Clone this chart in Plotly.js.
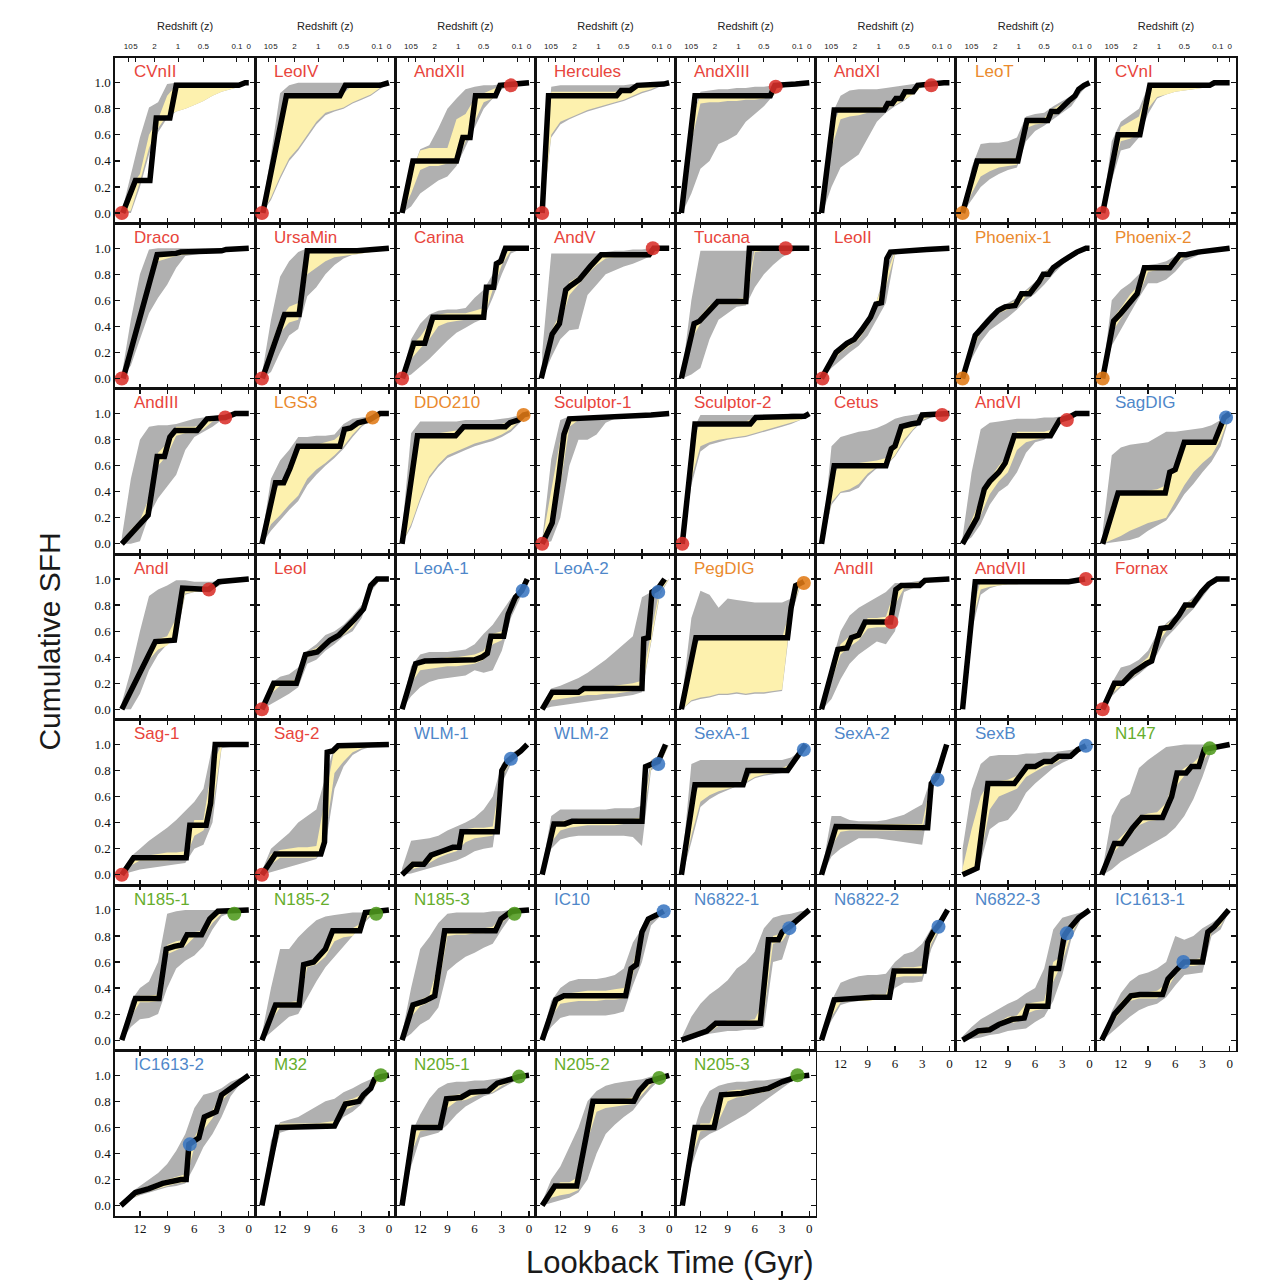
<!DOCTYPE html>
<html>
<head>
<meta charset="utf-8">
<script src="https://cdn.plot.ly/plotly-3.0.1.min.js"></script>
<style>
  html, body { margin: 0; padding: 0; background: #ffffff; }
  #chart { width: 1266px; height: 1280px; }
</style>
</head>
<body>
<div id="chart"></div>
<script>
// Cumulative star formation histories of Local Group dwarfs, one panel per field.
// Lookback time (Gyr) on x, cumulative fraction of stellar mass formed on y.

// Time grid on which the uncertainty envelopes are sampled
const lookbackGrid = [14, 13, 12, 11, 10, 9, 8, 7, 6, 5, 4, 3, 2, 1, 0];

const galaxyNames = [
  'CVnII', 'LeoIV', 'AndXII', 'Hercules', 'AndXIII', 'AndXI', 'LeoT', 'CVnI',
  'Draco', 'UrsaMin', 'Carina', 'AndV', 'Tucana', 'LeoII', 'Phoenix-1', 'Phoenix-2',
  'AndIII', 'LGS3', 'DDO210', 'Sculptor-1', 'Sculptor-2', 'Cetus', 'AndVI', 'SagDIG',
  'AndI', 'LeoI', 'LeoA-1', 'LeoA-2', 'PegDIG', 'AndII', 'AndVII', 'Fornax',
  'Sag-1', 'Sag-2', 'WLM-1', 'WLM-2', 'SexA-1', 'SexA-2', 'SexB', 'N147',
  'N185-1', 'N185-2', 'N185-3', 'IC10', 'N6822-1', 'N6822-2', 'N6822-3', 'IC1613-1',
  'IC1613-2', 'M32', 'N205-1', 'N205-2', 'N205-3'
];

// Morphological class of each field (sets label and marker colour)
const galaxyClass = [
  'dSph', 'dSph', 'dSph', 'dSph', 'dSph', 'dSph', 'dTrans', 'dSph',
  'dSph', 'dSph', 'dSph', 'dSph', 'dSph', 'dSph', 'dTrans', 'dTrans',
  'dSph', 'dTrans', 'dTrans', 'dSph', 'dSph', 'dSph', 'dSph', 'dIrr',
  'dSph', 'dSph', 'dIrr', 'dIrr', 'dTrans', 'dSph', 'dSph', 'dSph',
  'dSph', 'dSph', 'dIrr', 'dIrr', 'dIrr', 'dIrr', 'dIrr', 'dE',
  'dE', 'dE', 'dE', 'dIrr', 'dIrr', 'dIrr', 'dIrr', 'dIrr',
  'dIrr', 'dE', 'dE', 'dE', 'dE'
];

// Best-fit cumulative SFH vertices, flattened as [t0, f0, t1, f1, ...]
const bestFitPath = [
  [13.9,0, 12.5,0.25, 10.9,0.25, 10.2,0.73, 8.7,0.73, 8.0,0.98, 1.1,0.98, 0.4,1, 0,1],
  [13.9,0, 11.3,0.9, 5.4,0.9, 4.8,0.98, 1.0,0.98, 0.3,1, 0,1],
  [14.0,0, 12.8,0.4, 8.0,0.4, 7.3,0.58, 6.5,0.58, 5.9,0.9, 3.7,0.9, 3.2,0.98, 0,1],
  [14.0,0, 13.3,0.9, 5.8,0.9, 5.3,0.94, 4.3,0.94, 3.5,0.98, 0.6,0.99, 0,1],
  [14.1,0, 12.6,0.9, 4.3,0.9, 3.8,0.98, 1.5,0.99, 0.5,1, 0,1],
  [14.1,0, 12.7,0.79, 7.2,0.79, 6.8,0.84, 6.3,0.84, 5.9,0.88, 5.3,0.88, 4.9,0.93, 4.0,0.93, 3.5,0.98, 0.6,1, 0,1],
  [14.0,0, 12.4,0.4, 7.9,0.4, 6.9,0.71, 4.6,0.71, 4.2,0.78, 3.5,0.78, 3.0,0.82, 2.3,0.86, 1.6,0.9, 1.2,0.95, 0.6,0.98, 0,1],
  [14.0,0, 12.3,0.6, 9.9,0.6, 8.8,0.98, 2.2,0.98, 1.7,1, 0,1],
  [13.85,0, 10.1,0.95, 8.0,0.96, 7.5,0.97, 3.0,0.98, 2.5,0.99, 0,1],
  [13.95,0, 11.5,0.49, 9.9,0.49, 9.0,0.98, 3.5,0.98, 1.0,0.99, 0,1],
  [13.95,0, 12.7,0.27, 11.5,0.27, 10.6,0.47, 5.0,0.47, 4.7,0.7, 3.9,0.7, 3.6,0.88, 3.1,0.9, 2.6,1, 0,1],
  [14.1,0, 12.9,0.34, 12.1,0.42, 11.4,0.68, 10.9,0.71, 9.9,0.76, 8.7,0.86, 7.5,0.95, 2.2,0.95, 1.7,1, 0,1],
  [14.1,0, 12.7,0.42, 12.1,0.44, 11.1,0.52, 10.1,0.59, 7.0,0.59, 6.6,1, 0,1],
  [14.1,0, 12.5,0.2, 11.3,0.27, 10.5,0.3, 9.7,0.37, 8.7,0.47, 8.1,0.57, 7.5,0.58, 6.9,0.92, 6.5,0.97, 2.5,0.99, 0,1],
  [14.0,0, 12.6,0.33, 11.2,0.44, 10.1,0.52, 9.3,0.55, 8.2,0.56, 7.5,0.65, 6.6,0.65, 5.6,0.74, 5.1,0.8, 4.5,0.8, 4.0,0.85, 3.0,0.9, 2.2,0.94, 1.4,0.97, 0.4,1, 0,1],
  [14.0,0, 12.8,0.44, 12.0,0.5, 11.0,0.59, 10.2,0.65, 9.4,0.85, 6.6,0.85, 5.5,0.95, 4.8,0.95, 3.5,0.97, 1.5,0.99, 0,1],
  [14.0,0, 11.1,0.22, 10.1,0.67, 9.3,0.67, 8.7,0.82, 8.1,0.87, 5.7,0.87, 4.6,0.96, 2.6,0.97, 1.5,1, 0,1],
  [14.0,0, 12.5,0.47, 11.6,0.47, 10.9,0.58, 10.0,0.75, 5.4,0.75, 4.9,0.88, 4.2,0.89, 3.4,0.93, 2.2,0.95, 1.0,1, 0,1],
  [14.0,0, 12.3,0.83, 8.1,0.83, 7.2,0.9, 2.6,0.9, 2.1,0.93, 1.2,0.95, 0.6,0.99, 0,1],
  [14.0,0, 12.9,0.16, 12.2,0.5, 11.6,0.84, 11.0,0.96, 6.7,0.97, 2.0,0.99, 0,1],
  [14.0,0, 12.6,0.92, 6.5,0.92, 5.9,0.97, 0.5,0.98, 0.2,1, 0,1],
  [14.1,0, 12.7,0.6, 7.0,0.6, 6.4,0.73, 6.0,0.75, 5.3,0.9, 4.2,0.92, 3.4,0.93, 3.0,0.99, 0.8,0.99, 0,1],
  [14.0,0, 12.4,0.2, 11.6,0.42, 11.0,0.48, 10.0,0.55, 9.3,0.62, 8.3,0.83, 4.3,0.83, 3.3,0.95, 2.3,0.97, 1.5,1, 0,1],
  [14.0,0, 12.3,0.39, 7.1,0.39, 6.6,0.55, 6.0,0.57, 5.0,0.78, 1.7,0.78, 0.6,0.97, 0,1],
  [14.0,0, 10.3,0.52, 8.2,0.53, 7.3,0.93, 4.4,0.92, 3.3,0.98, 0,1],
  [14.0,0, 12.7,0.2, 10.2,0.2, 9.2,0.42, 7.9,0.44, 6.5,0.53, 5.5,0.57, 4.6,0.63, 3.8,0.69, 2.8,0.77, 2.0,0.95, 1.3,1, 0,1],
  [14.0,0, 12.5,0.35, 11.5,0.37, 8.0,0.37, 6.0,0.38, 5.2,0.4, 4.6,0.43, 4.2,0.56, 2.8,0.56, 2.3,0.73, 1.9,0.8, 1.5,0.86, 0.8,0.91, 0.2,1],
  [14.0,0, 12.9,0.13, 10.0,0.13, 9.4,0.16, 3.0,0.16, 2.8,0.54, 2.3,0.55, 1.9,0.9, 1.2,0.93, 0.5,1],
  [14.1,0, 12.5,0.55, 2.4,0.55, 2.0,0.78, 1.5,0.95, 0.6,0.98],
  [14.1,0, 12.3,0.46, 11.3,0.47, 10.8,0.55, 10.0,0.57, 9.3,0.67, 6.5,0.67, 5.9,0.92, 5.3,0.95, 3.3,0.95, 2.7,0.99, 0,1],
  [14.0,0, 12.6,0.98, 2.3,0.98, 0.5,1],
  [14.0,0, 12.7,0.2, 11.8,0.2, 10.7,0.28, 9.2,0.35, 8.6,0.37, 7.6,0.62, 6.6,0.63, 5.6,0.72, 4.9,0.8, 4.1,0.8, 3.1,0.9, 2.3,0.96, 1.4,1, 0,1],
  [14.0,0, 12.7,0.13, 6.9,0.13, 6.5,0.38, 4.7,0.38, 4.2,0.55, 3.7,1, 0,1],
  [14.0,0, 12.5,0.16, 7.5,0.16, 7.1,0.25, 6.8,0.94, 6.2,0.95, 5.6,0.99, 0,1],
  [14.0,0, 12.8,0.08, 11.6,0.08, 10.8,0.15, 9.6,0.18, 8.4,0.21, 7.7,0.21, 7.4,0.33, 3.5,0.33, 3.0,0.8, 2.4,0.87, 1.8,0.9, 0.9,0.95, 0.2,1],
  [14.0,0, 12.7,0.39, 11.5,0.39, 10.7,0.41, 3.0,0.41, 2.6,0.83, 1.2,0.87, 0.4,1],
  [14.1,0, 12.6,0.69, 7.3,0.69, 6.8,0.8, 2.4,0.8, 1.7,0.87, 0.4,1],
  [14.1,0, 12.5,0.37, 2.4,0.36, 2.0,0.7, 1.4,0.75, 1.0,0.84, 0.3,1],
  [14.0,0, 12.4,0.05, 11.2,0.7, 8.3,0.7, 6.9,0.83, 6.0,0.83, 5.0,0.87, 4.2,0.87, 3.4,0.91, 2.1,0.91, 1.3,0.96, 0.4,0.99],
  [14.1,0, 12.7,0.24, 11.9,0.24, 10.7,0.36, 9.7,0.44, 7.4,0.44, 6.4,0.6, 5.8,0.78, 4.8,0.78, 4.2,0.83, 3.4,0.83, 2.8,0.96, 2.2,0.97, 1.0,0.99, 0,1],
  [14.0,0, 12.5,0.32, 9.9,0.32, 9.1,0.7, 8.2,0.72, 7.4,0.73, 6.8,0.81, 5.2,0.81, 4.3,0.93, 3.4,0.99, 0,1],
  [14.0,0, 12.5,0.27, 9.9,0.27, 9.4,0.58, 8.3,0.6, 7.0,0.7, 6.2,0.84, 3.2,0.84, 2.6,0.98, 0,1],
  [14.0,0, 12.8,0.27, 11.5,0.3, 10.4,0.34, 9.3,0.84, 3.7,0.84, 3.1,0.93, 2.5,0.96, 1.9,0.99, 0,1],
  [14.0,0, 12.5,0.31, 11.6,0.34, 4.8,0.34, 4.2,0.55, 3.6,0.58, 3.0,0.83, 2.3,0.93, 1.4,0.96, 0.6,0.99],
  [14.1,0, 12.5,0.04, 11.3,0.07, 10.3,0.13, 5.4,0.13, 4.9,0.48, 4.5,0.77, 3.4,0.77, 3.0,0.83, 2.2,0.87, 0,1],
  [14.1,0, 12.7,0.31, 8.5,0.33, 6.6,0.33, 6.1,0.53, 2.8,0.53, 2.4,0.75, 1.8,0.83, 1.2,0.88, 0.2,1],
  [14.0,0, 12.3,0.07, 11.0,0.08, 10.0,0.12, 8.5,0.16, 7.2,0.17, 6.8,0.26, 4.6,0.26, 4.2,0.55, 3.4,0.55, 2.8,0.8, 2.4,0.84, 1.2,0.94, 0,1],
  [14.1,0, 12.7,0.2, 10.9,0.34, 9.9,0.35, 7.4,0.35, 6.8,0.47, 6.0,0.53, 5.0,0.6, 3.0,0.6, 2.4,0.83, 1.7,0.87, 0.1,1],
  [14.1,0, 12.5,0.1, 11.0,0.13, 9.5,0.17, 7.5,0.2, 6.9,0.2, 6.6,0.47, 5.5,0.52, 4.9,0.68, 3.6,0.72, 3.0,0.85, 2.0,0.9, 1.0,0.96, 0,1],
  [14.0,0, 12.3,0.6, 6.0,0.61, 4.8,0.78, 3.3,0.8, 2.8,0.85, 2.0,0.9, 1.6,0.97, 0.9,0.99, 0,1],
  [14.0,0, 12.7,0.6, 9.8,0.6, 9.1,0.82, 7.5,0.83, 6.5,0.87, 4.5,0.88, 3.5,0.94, 2.5,0.96, 1.1,0.99, 0,1],
  [14.0,0, 12.6,0.15, 10.2,0.15, 8.9,0.6, 8.4,0.8, 3.9,0.8, 3.3,0.88, 2.4,0.95, 1.1,0.98, 0,1],
  [14.0,0, 12.6,0.6, 10.5,0.6, 9.7,0.85, 7.5,0.86, 6.0,0.88, 4.5,0.9, 3.0,0.95, 1.3,0.99, 0,1]
];

// Total (systematic + random) uncertainty envelope on lookbackGrid
const totalHigh = [
  [0.01,0.3,0.58,0.81,0.85,0.99,1,1,1,1,1,1,1,1,1],
  [0.02,0.45,0.92,0.98,1,1,1,1,1,1,1,1,1,1,1],
  [0.02,0.3,0.49,0.52,0.65,0.8,0.88,0.95,0.97,0.98,0.98,0.99,1,1,1],
  [0.05,0.97,0.98,0.98,0.98,0.98,0.98,0.98,0.98,0.98,0.99,0.99,1,1,1],
  [0.02,0.7,0.93,0.94,0.95,0.95,0.96,0.96,0.97,0.97,0.98,0.99,1,1,1],
  [0.02,0.75,0.9,0.94,0.95,0.95,0.95,0.96,0.97,0.98,0.99,1,1,1,1],
  [0.02,0.35,0.53,0.54,0.54,0.55,0.58,0.74,0.76,0.77,0.82,0.86,0.9,0.97,1],
  [0.02,0.55,0.7,0.75,0.8,0.97,0.99,0.99,0.99,0.99,0.99,0.99,1,1,1],
  [0.03,0.45,0.8,0.99,1,1,1,1,1,1,1,1,1,1,1],
  [0.03,0.45,0.78,0.9,0.97,1,1,1,1,1,1,1,1,1,1],
  [0.02,0.3,0.42,0.49,0.52,0.53,0.53,0.54,0.62,0.68,0.8,0.99,1,1,1],
  [0.2,0.96,0.96,0.96,0.96,0.96,0.96,0.97,0.98,0.98,0.99,0.99,1,1,1],
  [0.05,0.6,0.98,0.98,0.98,0.98,0.98,0.98,1,1,1,1,1,1,1],
  [0.02,0.17,0.25,0.3,0.35,0.45,0.6,0.85,0.99,0.99,0.99,0.99,1,1,1],
  [0.02,0.26,0.41,0.49,0.55,0.58,0.62,0.68,0.74,0.82,0.87,0.92,0.96,0.99,1],
  [0.03,0.6,0.68,0.73,0.8,0.87,0.88,0.9,0.94,0.96,0.97,0.98,0.99,1,1],
  [0.05,0.5,0.8,0.9,0.91,0.91,0.92,0.94,0.96,0.97,0.98,0.99,1,1,1],
  [0.05,0.5,0.64,0.72,0.82,0.82,0.83,0.83,0.84,0.92,0.96,0.97,0.98,1,1],
  [0.1,0.85,0.94,0.94,0.94,0.94,0.94,0.95,0.95,0.95,0.95,0.96,0.97,0.99,1],
  [0.03,0.65,0.95,0.98,0.98,0.98,0.98,0.98,0.98,0.98,0.99,0.99,1,1,1],
  [0.05,0.85,0.99,0.99,0.99,0.99,0.99,0.99,0.99,0.99,0.99,0.99,1,1,1],
  [0.03,0.75,0.82,0.84,0.86,0.87,0.89,0.92,0.96,0.98,0.99,1,1,1,1],
  [0.05,0.55,0.88,0.93,0.94,0.95,0.96,0.96,0.96,0.97,0.97,0.98,1,1,1],
  [0.1,0.68,0.74,0.76,0.77,0.78,0.82,0.86,0.86,0.87,0.88,0.89,0.91,0.95,1],
  [0.05,0.3,0.6,0.87,0.92,0.95,0.99,0.99,0.98,0.98,0.98,0.99,1,1,1],
  [0.02,0.2,0.25,0.27,0.32,0.45,0.5,0.57,0.6,0.65,0.72,0.8,0.97,1,1],
  [0.03,0.33,0.42,0.44,0.44,0.44,0.45,0.46,0.5,0.58,0.65,0.75,0.85,0.92,1],
  [0.02,0.16,0.18,0.21,0.24,0.28,0.33,0.38,0.44,0.5,0.56,0.86,0.9,0.95,1],
  [0.1,0.7,0.91,0.88,0.78,0.85,0.84,0.83,0.82,0.82,0.82,0.82,0.85,0.97,1],
  [0.05,0.35,0.6,0.72,0.78,0.82,0.86,0.9,0.97,0.97,0.98,0.99,1,1,1],
  [0.05,0.9,0.99,0.99,0.99,0.99,0.99,0.99,0.99,0.99,0.99,0.99,1,1,1],
  [0.03,0.2,0.32,0.34,0.38,0.45,0.58,0.66,0.72,0.8,0.86,0.92,0.98,1,1],
  [0.03,0.14,0.2,0.26,0.31,0.36,0.42,0.49,0.56,0.66,0.99,1,1,1,1],
  [0.03,0.2,0.26,0.32,0.4,0.45,0.5,0.75,0.99,1,1,1,1,1,1],
  [0.05,0.26,0.27,0.28,0.3,0.34,0.37,0.4,0.44,0.5,0.6,0.85,0.93,0.97,1],
  [0.05,0.45,0.5,0.5,0.5,0.5,0.5,0.5,0.51,0.51,0.51,0.53,0.88,0.92,1],
  [0.1,0.85,0.88,0.88,0.88,0.88,0.88,0.88,0.88,0.88,0.88,0.88,0.9,0.95,1],
  [0.05,0.45,0.45,0.42,0.41,0.41,0.41,0.42,0.44,0.46,0.5,0.54,0.75,0.88,1],
  [0.2,0.65,0.85,0.91,0.92,0.92,0.92,0.93,0.93,0.94,0.94,0.95,0.96,0.98,1],
  [0.05,0.45,0.58,0.62,0.82,0.88,0.93,0.98,0.99,1,1,1,1,1,1],
  [0.03,0.3,0.4,0.45,0.6,0.97,0.99,1,1,1,1,1,1,1,1],
  [0.05,0.4,0.7,0.7,0.79,0.86,0.92,0.95,0.96,0.97,0.98,0.98,1,1,1],
  [0.05,0.4,0.7,0.79,0.9,0.97,0.98,0.98,0.98,0.98,0.99,0.99,1,1,1],
  [0.03,0.3,0.4,0.45,0.47,0.47,0.47,0.48,0.5,0.55,0.75,0.86,0.96,0.98,1],
  [0.03,0.18,0.28,0.35,0.4,0.46,0.55,0.6,0.68,0.86,0.94,0.96,0.97,0.99,1],
  [0.03,0.3,0.44,0.47,0.49,0.5,0.5,0.51,0.6,0.66,0.68,0.74,0.86,0.93,1],
  [0.03,0.1,0.16,0.2,0.24,0.28,0.31,0.36,0.4,0.55,0.85,0.94,0.96,0.98,1],
  [0.03,0.22,0.36,0.45,0.5,0.52,0.55,0.6,0.8,0.77,0.8,0.86,0.9,0.95,1],
  [0.02,0.1,0.15,0.2,0.25,0.32,0.42,0.55,0.75,0.85,0.87,0.9,0.95,0.98,1],
  [0.05,0.5,0.64,0.66,0.68,0.72,0.76,0.8,0.82,0.87,0.9,0.94,0.97,0.99,1],
  [0.05,0.55,0.7,0.82,0.9,0.94,0.95,0.95,0.96,0.96,0.97,0.98,0.99,1,1],
  [0.03,0.2,0.3,0.45,0.6,0.8,0.88,0.92,0.94,0.95,0.96,0.97,0.99,1,1],
  [0.05,0.5,0.75,0.88,0.92,0.94,0.95,0.95,0.96,0.96,0.97,0.98,0.99,1,1]
];

const totalLow = [
  [0,0,0.2,0.45,0.62,0.73,0.78,0.8,0.83,0.86,0.9,0.93,0.95,0.97,1],
  [0,0.1,0.26,0.4,0.48,0.58,0.68,0.75,0.78,0.8,0.84,0.87,0.9,0.95,1],
  [0,0.05,0.15,0.2,0.25,0.28,0.36,0.5,0.65,0.8,0.88,0.95,0.98,0.99,1],
  [0,0.58,0.68,0.72,0.75,0.78,0.8,0.82,0.84,0.86,0.89,0.92,0.94,0.97,1],
  [0,0.15,0.34,0.4,0.53,0.56,0.6,0.7,0.76,0.82,0.9,0.96,0.98,0.99,1],
  [0,0.2,0.35,0.4,0.45,0.57,0.7,0.77,0.82,0.86,0.92,0.97,0.98,0.99,1],
  [0,0.1,0.2,0.26,0.3,0.33,0.35,0.55,0.63,0.67,0.72,0.77,0.82,0.92,1],
  [0,0.25,0.48,0.5,0.58,0.76,0.88,0.91,0.93,0.94,0.95,0.96,0.98,0.99,1],
  [0,0.1,0.3,0.5,0.62,0.72,0.85,0.94,0.95,0.96,0.97,0.98,0.99,0.99,1],
  [0,0.05,0.2,0.33,0.38,0.63,0.7,0.8,0.87,0.92,0.95,0.96,0.97,0.99,1],
  [0,0.03,0.09,0.15,0.22,0.29,0.35,0.39,0.43,0.46,0.62,0.8,0.96,0.99,1],
  [0,0.16,0.3,0.37,0.38,0.64,0.72,0.8,0.83,0.86,0.88,0.91,0.94,0.99,1],
  [0,0.03,0.08,0.3,0.45,0.5,0.55,0.56,0.7,0.8,0.87,0.93,0.97,0.99,1],
  [0,0.08,0.14,0.2,0.25,0.33,0.45,0.58,0.95,0.97,0.98,0.98,0.99,0.99,1],
  [0,0.15,0.28,0.37,0.42,0.47,0.53,0.6,0.65,0.72,0.8,0.87,0.92,0.97,1],
  [0,0.25,0.38,0.5,0.62,0.73,0.73,0.76,0.82,0.9,0.93,0.96,0.98,0.99,1],
  [0,0,0.02,0.22,0.35,0.44,0.53,0.72,0.82,0.86,0.9,0.95,0.97,0.99,1],
  [0,0.1,0.18,0.26,0.33,0.45,0.53,0.6,0.66,0.73,0.82,0.9,0.95,0.99,1],
  [0,0.13,0.33,0.5,0.59,0.66,0.69,0.72,0.75,0.77,0.79,0.82,0.86,0.93,1],
  [0,0.02,0.2,0.6,0.8,0.8,0.84,0.93,0.96,0.97,0.97,0.98,0.99,0.99,1],
  [0,0.45,0.71,0.76,0.78,0.8,0.81,0.82,0.84,0.86,0.88,0.9,0.92,0.95,0.98],
  [0,0.3,0.39,0.4,0.43,0.52,0.58,0.6,0.67,0.78,0.87,0.94,0.97,0.99,1],
  [0,0.05,0.15,0.3,0.4,0.45,0.55,0.7,0.78,0.8,0.86,0.94,0.97,0.99,1],
  [0,0.01,0.02,0.03,0.05,0.1,0.14,0.18,0.27,0.38,0.46,0.55,0.63,0.75,0.98],
  [0,0,0.12,0.3,0.42,0.5,0.55,0.88,0.9,0.91,0.92,0.96,0.98,0.99,1],
  [0,0.04,0.08,0.12,0.17,0.35,0.38,0.45,0.5,0.56,0.6,0.7,0.9,0.99,1],
  [0,0.1,0.17,0.21,0.23,0.24,0.25,0.26,0.3,0.28,0.3,0.45,0.7,0.85,1],
  [0,0.02,0.03,0.04,0.05,0.06,0.07,0.08,0.09,0.1,0.11,0.13,0.5,0.88,1],
  [0,0.06,0.08,0.09,0.11,0.11,0.12,0.11,0.12,0.12,0.13,0.14,0.72,0.94,1],
  [0,0.08,0.23,0.35,0.42,0.47,0.52,0.5,0.6,0.9,0.93,0.96,0.98,0.99,1],
  [0,0.6,0.88,0.93,0.95,0.96,0.96,0.97,0.97,0.97,0.98,0.98,0.98,0.99,1],
  [0,0.1,0.17,0.22,0.27,0.33,0.42,0.55,0.62,0.7,0.77,0.86,0.95,0.99,1],
  [0,0.02,0.04,0.05,0.06,0.07,0.08,0.09,0.2,0.23,0.4,0.97,0.98,0.99,1],
  [0,0.02,0.04,0.06,0.08,0.1,0.12,0.22,0.66,0.83,0.92,0.96,0.98,0.99,1],
  [0,0.01,0.03,0.05,0.07,0.09,0.11,0.14,0.18,0.2,0.21,0.7,0.85,0.93,1],
  [0,0.2,0.27,0.29,0.3,0.3,0.3,0.3,0.3,0.3,0.29,0.22,0.8,0.85,1],
  [0,0.25,0.52,0.58,0.62,0.65,0.68,0.7,0.74,0.76,0.77,0.78,0.82,0.9,1],
  [0,0.14,0.2,0.24,0.28,0.28,0.28,0.27,0.26,0.25,0.24,0.23,0.65,0.8,1],
  [0,0.01,0.1,0.35,0.4,0.42,0.5,0.63,0.7,0.76,0.82,0.86,0.89,0.95,1],
  [0,0.04,0.1,0.14,0.18,0.22,0.26,0.3,0.36,0.45,0.58,0.75,0.95,0.98,1],
  [0,0.1,0.16,0.17,0.2,0.4,0.55,0.61,0.65,0.72,0.85,0.95,0.98,0.99,1],
  [0,0.06,0.12,0.18,0.2,0.32,0.45,0.56,0.64,0.72,0.8,0.88,0.95,0.99,1],
  [0,0.05,0.12,0.16,0.25,0.53,0.59,0.64,0.67,0.71,0.74,0.85,0.95,0.99,1],
  [0,0.1,0.17,0.19,0.19,0.19,0.19,0.19,0.2,0.22,0.42,0.6,0.88,0.95,1],
  [0,0.01,0.03,0.05,0.06,0.07,0.07,0.08,0.08,0.1,0.6,0.62,0.84,0.92,1],
  [0,0.15,0.27,0.29,0.3,0.31,0.31,0.32,0.4,0.44,0.44,0.45,0.7,0.85,1],
  [0,0.01,0.02,0.04,0.05,0.07,0.08,0.09,0.14,0.18,0.3,0.5,0.78,0.92,1],
  [0,0.06,0.12,0.18,0.23,0.26,0.28,0.33,0.42,0.5,0.51,0.52,0.8,0.85,1],
  [0,0.05,0.08,0.1,0.12,0.14,0.15,0.17,0.3,0.45,0.55,0.68,0.84,0.93,1],
  [0,0.3,0.56,0.58,0.59,0.59,0.59,0.6,0.6,0.68,0.72,0.78,0.88,0.97,1],
  [0,0.3,0.52,0.54,0.56,0.62,0.7,0.76,0.8,0.84,0.86,0.9,0.94,0.98,1],
  [0,0.02,0.04,0.06,0.1,0.2,0.4,0.55,0.62,0.68,0.73,0.82,0.9,0.97,1],
  [0,0.3,0.5,0.55,0.58,0.62,0.66,0.7,0.75,0.8,0.85,0.9,0.95,0.98,1]
];

// Random-only uncertainty envelope on lookbackGrid
const randomHigh = [
  [0,0.2,0.3,0.6,0.72,0.9,0.98,0.99,0.99,0.99,0.99,0.99,0.99,0.99,1],
  [0,0.35,0.7,0.9,0.91,0.91,0.91,0.91,0.91,0.92,0.98,0.98,0.98,0.98,1],
  [0.01,0.3,0.48,0.5,0.5,0.5,0.72,0.76,0.88,0.92,0.95,0.98,0.99,1,1],
  [0.02,0.93,0.93,0.93,0.93,0.93,0.93,0.93,0.93,0.95,0.96,0.99,0.99,1,1],
  [0,0.7,0.91,0.91,0.91,0.91,0.91,0.91,0.91,0.91,0.93,0.98,0.99,1,1],
  [0,0.65,0.81,0.81,0.81,0.81,0.81,0.82,0.86,0.9,0.95,0.99,1,1,1],
  [0,0.25,0.42,0.42,0.42,0.42,0.42,0.72,0.73,0.73,0.8,0.84,0.88,0.96,1],
  [0,0.4,0.66,0.7,0.74,0.95,0.98,0.98,0.98,0.98,0.98,0.99,0.99,1,1],
  [0,0.25,0.52,0.76,0.96,0.97,0.97,0.97,0.98,0.98,0.98,0.99,0.99,1,1],
  [0,0.25,0.45,0.55,0.58,0.98,0.98,0.98,0.98,0.98,0.98,0.99,0.99,1,1],
  [0,0.25,0.32,0.42,0.49,0.5,0.5,0.5,0.52,0.54,0.74,0.92,1,1,1],
  [0,0.36,0.5,0.74,0.78,0.86,0.92,0.96,0.96,0.96,0.96,0.96,0.97,1,1],
  [0,0.36,0.48,0.56,0.61,0.61,0.61,0.62,1,1,1,1,1,1,1],
  [0,0.16,0.24,0.29,0.34,0.44,0.6,0.78,0.98,0.98,0.99,0.99,1,1,1],
  [0.01,0.25,0.4,0.48,0.54,0.57,0.6,0.67,0.72,0.81,0.86,0.91,0.96,0.98,1],
  [0.01,0.45,0.54,0.64,0.72,0.87,0.87,0.87,0.9,0.96,0.97,0.98,0.99,1,1],
  [0.01,0.11,0.18,0.35,0.7,0.77,0.9,0.9,0.9,0.92,0.97,0.98,0.99,1,1],
  [0.01,0.35,0.47,0.55,0.74,0.75,0.76,0.78,0.8,0.86,0.9,0.94,0.96,1,1],
  [0.02,0.55,0.84,0.85,0.85,0.86,0.87,0.91,0.91,0.91,0.91,0.92,0.94,0.97,1],
  [0.02,0.4,0.8,0.96,0.97,0.97,0.97,0.98,0.98,0.98,0.98,0.99,0.99,1,1],
  [0.01,0.75,0.94,0.94,0.94,0.94,0.94,0.94,0.97,0.98,0.98,0.98,0.99,0.99,1],
  [0.01,0.5,0.62,0.62,0.62,0.63,0.64,0.66,0.77,0.9,0.93,0.99,0.99,1,1],
  [0.01,0.18,0.35,0.5,0.6,0.68,0.86,0.86,0.86,0.86,0.88,0.96,0.98,1,1],
  [0.02,0.3,0.4,0.4,0.4,0.41,0.42,0.45,0.6,0.78,0.78,0.78,0.79,0.88,1],
  [0.01,0.15,0.3,0.45,0.54,0.56,0.7,0.94,0.93,0.93,0.94,0.99,0.99,1,1],
  [0.01,0.18,0.22,0.22,0.23,0.44,0.47,0.52,0.56,0.61,0.68,0.78,0.96,1,1],
  [0.01,0.3,0.38,0.39,0.39,0.4,0.4,0.41,0.42,0.45,0.58,0.6,0.8,0.91,1],
  [0.01,0.14,0.14,0.14,0.15,0.17,0.17,0.17,0.18,0.19,0.2,0.22,0.58,0.94,1],
  [0.01,0.42,0.55,0.55,0.55,0.55,0.55,0.55,0.55,0.55,0.55,0.55,0.78,0.97,1],
  [0.01,0.32,0.5,0.56,0.6,0.7,0.7,0.71,0.92,0.97,0.97,0.98,1,1,1],
  [0.01,0.72,0.99,0.99,0.99,0.99,0.99,0.99,0.99,0.99,0.99,0.99,1,1,1],
  [0.01,0.17,0.22,0.28,0.34,0.4,0.56,0.65,0.7,0.81,0.84,0.93,0.98,1,1],
  [0.01,0.12,0.15,0.15,0.16,0.17,0.17,0.18,0.42,0.42,0.85,1,1,1,1],
  [0.01,0.16,0.19,0.2,0.21,0.21,0.22,0.6,0.97,0.99,1,1,1,1,1],
  [0.01,0.1,0.1,0.12,0.18,0.21,0.23,0.35,0.36,0.36,0.37,0.82,0.9,0.96,1],
  [0.01,0.33,0.41,0.42,0.43,0.43,0.43,0.43,0.43,0.43,0.43,0.44,0.85,0.89,1],
  [0.01,0.55,0.71,0.71,0.71,0.71,0.71,0.72,0.82,0.82,0.82,0.82,0.85,0.93,1],
  [0.01,0.3,0.38,0.39,0.39,0.39,0.39,0.39,0.39,0.39,0.39,0.39,0.72,0.86,1],
  [0.05,0.35,0.6,0.72,0.72,0.73,0.76,0.84,0.85,0.88,0.89,0.92,0.93,0.97,1],
  [0.01,0.22,0.29,0.36,0.45,0.47,0.48,0.55,0.76,0.82,0.86,0.93,0.98,1,1],
  [0.01,0.24,0.34,0.34,0.35,0.73,0.76,0.77,0.83,0.84,0.94,0.99,1,1,1],
  [0.01,0.22,0.29,0.29,0.3,0.6,0.63,0.72,0.85,0.85,0.86,0.9,0.99,1,1],
  [0.01,0.24,0.31,0.34,0.58,0.86,0.86,0.86,0.86,0.86,0.87,0.95,0.98,1,1],
  [0.01,0.24,0.34,0.36,0.37,0.38,0.38,0.38,0.39,0.4,0.58,0.85,0.95,0.98,1],
  [0.01,0.05,0.07,0.09,0.14,0.15,0.15,0.15,0.16,0.3,0.8,0.82,0.89,0.95,1],
  [0.01,0.24,0.33,0.33,0.34,0.34,0.35,0.35,0.55,0.56,0.56,0.57,0.8,0.91,1],
  [0.01,0.06,0.09,0.1,0.14,0.18,0.19,0.28,0.29,0.3,0.6,0.65,0.86,0.95,1],
  [0.01,0.18,0.29,0.36,0.37,0.37,0.38,0.43,0.55,0.62,0.62,0.63,0.86,0.91,1],
  [0.01,0.09,0.13,0.15,0.18,0.2,0.22,0.24,0.52,0.66,0.73,0.86,0.92,0.97,1],
  [0.01,0.4,0.63,0.63,0.63,0.63,0.63,0.64,0.65,0.8,0.82,0.85,0.92,0.99,1],
  [0.01,0.5,0.62,0.62,0.62,0.84,0.85,0.86,0.88,0.89,0.9,0.95,0.97,0.99,1],
  [0.01,0.13,0.18,0.18,0.22,0.62,0.82,0.82,0.82,0.82,0.83,0.9,0.96,0.99,1],
  [0.01,0.45,0.63,0.63,0.8,0.88,0.89,0.89,0.9,0.91,0.92,0.96,0.98,0.99,1]
];

const randomLow = [
  [0,0.02,0.24,0.5,0.65,0.75,0.78,0.8,0.83,0.86,0.9,0.93,0.95,0.97,1],
  [0,0.12,0.28,0.42,0.5,0.6,0.7,0.77,0.79,0.81,0.85,0.88,0.91,0.96,1],
  [0,0.15,0.33,0.36,0.36,0.38,0.38,0.55,0.7,0.85,0.88,0.96,0.98,0.99,1],
  [0,0.6,0.7,0.73,0.76,0.79,0.81,0.83,0.85,0.87,0.9,0.93,0.95,0.98,1],
  [0,0.55,0.84,0.85,0.85,0.86,0.86,0.87,0.87,0.88,0.9,0.97,0.98,0.99,1],
  [0,0.5,0.72,0.74,0.75,0.77,0.78,0.8,0.83,0.87,0.91,0.97,0.99,1,1],
  [0,0.15,0.28,0.32,0.35,0.36,0.37,0.65,0.68,0.69,0.75,0.8,0.85,0.94,1],
  [0,0.3,0.55,0.57,0.6,0.8,0.89,0.91,0.93,0.94,0.95,0.96,0.98,0.99,1],
  [0,0.18,0.44,0.68,0.9,0.92,0.94,0.95,0.96,0.96,0.97,0.98,0.99,0.99,1],
  [0,0.15,0.35,0.43,0.45,0.8,0.85,0.9,0.93,0.94,0.95,0.96,0.97,0.99,1],
  [0,0.15,0.23,0.3,0.4,0.43,0.44,0.45,0.45,0.46,0.68,0.87,0.98,1,1],
  [0,0.28,0.42,0.64,0.72,0.8,0.87,0.92,0.93,0.93,0.93,0.93,0.95,1,1],
  [0,0.3,0.42,0.5,0.57,0.57,0.57,0.57,0.97,0.98,0.99,0.99,1,1,1],
  [0,0.12,0.2,0.25,0.3,0.4,0.54,0.7,0.96,0.97,0.98,0.98,0.99,0.99,1],
  [0,0.2,0.36,0.44,0.5,0.53,0.55,0.63,0.67,0.77,0.83,0.89,0.94,0.97,1],
  [0,0.35,0.46,0.56,0.64,0.82,0.83,0.83,0.88,0.93,0.95,0.97,0.98,0.99,1],
  [0,0.05,0.12,0.24,0.6,0.68,0.83,0.85,0.85,0.88,0.94,0.96,0.98,0.99,1],
  [0,0.15,0.22,0.3,0.37,0.5,0.57,0.62,0.68,0.75,0.84,0.91,0.95,0.99,1],
  [0,0.15,0.35,0.52,0.61,0.68,0.71,0.74,0.77,0.79,0.81,0.84,0.88,0.95,1],
  [0,0.12,0.45,0.9,0.95,0.96,0.96,0.97,0.97,0.97,0.98,0.98,0.99,0.99,1],
  [0,0.5,0.75,0.78,0.8,0.81,0.82,0.83,0.85,0.87,0.89,0.91,0.93,0.95,0.98],
  [0,0.32,0.4,0.42,0.46,0.54,0.59,0.6,0.68,0.8,0.88,0.95,0.98,0.99,1],
  [0,0.1,0.22,0.38,0.48,0.55,0.72,0.78,0.8,0.81,0.86,0.94,0.97,0.99,1],
  [0,0.03,0.06,0.1,0.13,0.16,0.18,0.2,0.33,0.45,0.55,0.62,0.68,0.8,0.99],
  [0,0.1,0.24,0.38,0.46,0.49,0.56,0.89,0.9,0.91,0.92,0.97,0.98,0.99,1],
  [0,0.12,0.18,0.18,0.19,0.4,0.42,0.49,0.53,0.57,0.63,0.74,0.93,0.99,1],
  [0,0.2,0.3,0.31,0.32,0.33,0.33,0.34,0.35,0.38,0.5,0.53,0.75,0.88,1],
  [0,0.07,0.08,0.09,0.1,0.11,0.11,0.12,0.12,0.13,0.14,0.15,0.52,0.9,1],
  [0,0.07,0.09,0.1,0.12,0.12,0.13,0.12,0.13,0.13,0.14,0.15,0.75,0.95,1],
  [0,0.22,0.42,0.48,0.53,0.62,0.63,0.63,0.8,0.93,0.93,0.96,0.98,0.99,1],
  [0,0.65,0.92,0.94,0.95,0.96,0.96,0.97,0.97,0.97,0.98,0.98,0.98,0.99,1],
  [0,0.12,0.18,0.23,0.29,0.34,0.5,0.6,0.66,0.76,0.79,0.89,0.96,0.99,1],
  [0,0.07,0.11,0.11,0.11,0.11,0.12,0.12,0.3,0.34,0.5,0.98,0.98,0.99,1],
  [0,0.08,0.13,0.13,0.13,0.13,0.13,0.3,0.78,0.87,0.94,0.97,0.98,0.99,1],
  [0,0.04,0.06,0.09,0.13,0.16,0.18,0.25,0.28,0.29,0.3,0.75,0.87,0.94,1],
  [0,0.25,0.34,0.36,0.37,0.38,0.38,0.38,0.38,0.39,0.39,0.39,0.82,0.86,1],
  [0,0.3,0.56,0.61,0.64,0.66,0.68,0.71,0.75,0.77,0.78,0.79,0.83,0.91,1],
  [0,0.22,0.33,0.34,0.34,0.34,0.34,0.34,0.34,0.34,0.34,0.34,0.68,0.82,1],
  [0,0.02,0.15,0.5,0.6,0.63,0.66,0.75,0.79,0.83,0.85,0.89,0.9,0.96,1],
  [0,0.16,0.23,0.3,0.38,0.41,0.42,0.47,0.67,0.76,0.81,0.87,0.96,0.99,1],
  [0,0.18,0.29,0.29,0.3,0.66,0.69,0.72,0.79,0.8,0.9,0.97,0.99,1,1],
  [0,0.15,0.25,0.25,0.26,0.56,0.58,0.64,0.76,0.79,0.8,0.88,0.97,0.99,1],
  [0,0.18,0.26,0.29,0.4,0.8,0.81,0.81,0.82,0.82,0.83,0.9,0.97,0.99,1],
  [0,0.18,0.28,0.29,0.3,0.3,0.3,0.31,0.31,0.32,0.5,0.8,0.92,0.96,1],
  [0,0.02,0.04,0.06,0.11,0.11,0.12,0.12,0.12,0.2,0.74,0.76,0.86,0.93,1],
  [0,0.18,0.29,0.3,0.3,0.3,0.31,0.31,0.48,0.49,0.49,0.49,0.74,0.87,1],
  [0,0.03,0.05,0.06,0.1,0.13,0.14,0.2,0.23,0.24,0.45,0.6,0.82,0.93,1],
  [0,0.13,0.22,0.3,0.32,0.32,0.32,0.38,0.5,0.57,0.57,0.58,0.83,0.88,1],
  [0,0.05,0.09,0.11,0.13,0.15,0.17,0.18,0.45,0.58,0.67,0.8,0.88,0.95,1],
  [0,0.33,0.58,0.59,0.6,0.6,0.6,0.6,0.62,0.73,0.76,0.8,0.88,0.97,1],
  [0,0.4,0.57,0.58,0.58,0.75,0.8,0.81,0.84,0.86,0.87,0.92,0.95,0.98,1],
  [0,0.06,0.08,0.09,0.12,0.5,0.72,0.75,0.76,0.77,0.78,0.85,0.93,0.97,1],
  [0,0.36,0.57,0.58,0.65,0.8,0.83,0.84,0.86,0.87,0.89,0.93,0.96,0.98,1]
];

// Coloured marker on each history: lookback time and cumulative fraction
const markerTime = [
  14.0, 14.0, 2.0, 14.0, 3.7, 2.0, 14.0, 14.0,
  14.0, 14.0, 14.0, 1.8, 2.6, 14.0, 14.0, 14.0,
  2.6, 1.8, 0.6, 14.0, 14.0, 0.8, 2.5, 0.4,
  4.4, 14.0, 0.7, 1.2, 0.6, 6.4, 0.4, 14.0,
  14.0, 14.0, 2.0, 1.2, 0.6, 1.3, 0.4, 2.2,
  1.6, 1.4, 1.6, 0.6, 2.2, 1.2, 2.5, 5.1,
  6.5, 0.9, 1.1, 1.1, 1.3
];
const markerFrac = [
  0, 0, 0.98, 0, 0.97, 0.98, 0, 0,
  0, 0, 0, 1.0, 1.0, 0, 0, 0,
  0.97, 0.97, 0.99, 0, 0, 0.99, 0.95, 0.97,
  0.92, 0, 0.91, 0.9, 0.97, 0.67, 1.0, 0,
  0, 0, 0.89, 0.85, 0.96, 0.73, 0.99, 0.97,
  0.97, 0.97, 0.97, 0.99, 0.86, 0.87, 0.82, 0.6,
  0.47, 1.0, 0.99, 0.98, 1.0
];

// Axis ticks
const lookbackTicks = [12, 9, 6, 3, 0];
const fractionTicks = [0, 0.2, 0.4, 0.6, 0.8, 1.0];
const redshiftLabels = ['10', '5', '2', '1', '0.5', '0.1', '0'];
const redshiftLookback = [13.3, 12.5, 10.4, 7.8, 5.0, 1.3, 0];

// ---------------------------------------------------------------------------
const classLabelColor = { dSph: '#e8453c', dTrans: '#ea8a2e', dIrr: '#4f87c9', dE: '#66ad2c' };
const classMarkerColor = { dSph: '#d9302a', dTrans: '#e07a16', dIrr: '#3a76c1', dE: '#4f9a1c' };

const nCols = 8, nRows = 7;
const xRange = [14.75, -0.7];
const yRange = [-0.08, 1.19];
const tickFont = { family: 'Liberation Serif, Times New Roman, serif', size: 13, color: '#111' };
const sansFamily = 'Liberation Sans, Arial, Helvetica, sans-serif';

const traces = [];
const annotations = [];
const layout = {
  width: 1266,
  height: 1280,
  margin: { l: 115, r: 30, t: 58, b: 64 },
  paper_bgcolor: '#ffffff',
  plot_bgcolor: '#ffffff',
  showlegend: false,
  annotations: annotations
};

const axisKey = k => (k === 1 ? '' : String(k));
const bandX = lookbackGrid.concat(lookbackGrid.slice().reverse());

galaxyNames.forEach((name, i) => {
  const r = Math.floor(i / nCols);
  const c = i % nCols;
  const k = i + 1;
  const xs = 'x' + axisKey(k), ys = 'y' + axisKey(k);
  const isBottom = i + nCols >= galaxyNames.length;

  layout['xaxis' + axisKey(k)] = {
    domain: [c / nCols, (c + 1) / nCols],
    anchor: ys,
    range: xRange,
    tickvals: lookbackTicks,
    ticktext: lookbackTicks.map(String),
    showticklabels: isBottom,
    ticks: 'inside', ticklen: 5, tickwidth: 1.2, tickcolor: '#111',
    showline: true, linecolor: '#111', linewidth: 1.6,
    mirror: r === 0 ? true : 'ticks',
    showgrid: false, zeroline: false,
    tickfont: tickFont,
    fixedrange: true
  };
  layout['yaxis' + axisKey(k)] = {
    domain: [1 - (r + 1) / nRows, 1 - r / nRows],
    anchor: xs,
    range: yRange,
    tickvals: fractionTicks,
    ticktext: fractionTicks.map(v => v.toFixed(1)),
    showticklabels: c === 0,
    ticks: 'inside', ticklen: 5, tickwidth: 1.2, tickcolor: '#111',
    showline: true, linecolor: '#111', linewidth: 1.6,
    mirror: 'ticks',
    showgrid: false, zeroline: false,
    tickfont: tickFont,
    fixedrange: true
  };

  // total uncertainty envelope
  traces.push({
    type: 'scatter', mode: 'lines', xaxis: xs, yaxis: ys,
    x: bandX,
    y: totalHigh[i].concat(totalLow[i].slice().reverse()),
    fill: 'toself', fillcolor: '#b0b0b0',
    line: { color: '#b0b0b0', width: 0 },
    hoverinfo: 'skip'
  });
  // random uncertainty envelope
  traces.push({
    type: 'scatter', mode: 'lines', xaxis: xs, yaxis: ys,
    x: bandX,
    y: randomHigh[i].concat(randomLow[i].slice().reverse()),
    fill: 'toself', fillcolor: '#fdf1ae',
    line: { color: '#fdf1ae', width: 0 },
    hoverinfo: 'skip'
  });
  // best fit
  const path = bestFitPath[i];
  const fx = [], fy = [];
  for (let j = 0; j < path.length; j += 2) { fx.push(path[j]); fy.push(path[j + 1]); }
  traces.push({
    type: 'scatter', mode: 'lines', xaxis: xs, yaxis: ys,
    x: fx, y: fy,
    line: { color: '#000000', width: 5.5 },
    hoverinfo: 'skip'
  });
  // marker
  traces.push({
    type: 'scatter', mode: 'markers', xaxis: xs, yaxis: ys,
    x: [markerTime[i]], y: [markerFrac[i]],
    marker: { size: 14, color: classMarkerColor[galaxyClass[i]], opacity: 0.88 },
    cliponaxis: false,
    hoverinfo: 'skip'
  });

  annotations.push({
    xref: xs + ' domain', yref: ys + ' domain',
    x: 0.12, y: 0.985, xanchor: 'left', yanchor: 'top',
    text: name, showarrow: false,
    font: { family: sansFamily, size: 17, color: classLabelColor[galaxyClass[i]] }
  });

  // redshift axis along the top row
  if (r === 0) {
    const zk = 60 + c;
    layout['xaxis' + zk] = {
      overlaying: xs,
      side: 'top',
      anchor: ys,
      range: xRange,
      tickvals: redshiftLookback,
      ticktext: redshiftLabels,
      tickangle: 0,
      ticks: 'inside', ticklen: 4, tickwidth: 1, tickcolor: '#111',
      ticklabelstandoff: 6,
      showline: false, showgrid: false, zeroline: false,
      tickfont: { family: sansFamily, size: 8, color: '#222' },
      title: { text: 'Redshift (z)', font: { family: sansFamily, size: 11, color: '#222' }, standoff: 9 },
      fixedrange: true
    };
    traces.push({
      type: 'scatter', mode: 'markers', xaxis: 'x' + zk, yaxis: ys,
      x: [7], y: [0.5], marker: { opacity: 0, size: 1 }, hoverinfo: 'skip'
    });
  }
});

annotations.push({
  xref: 'paper', yref: 'paper', x: -0.058, y: 0.496,
  xanchor: 'center', yanchor: 'middle', textangle: -90,
  text: 'Cumulative SFH', showarrow: false,
  font: { family: sansFamily, size: 30, color: '#1a1a1a' }
});
annotations.push({
  xref: 'paper', yref: 'paper', x: 0.495, y: -0.04,
  xanchor: 'center', yanchor: 'middle',
  text: 'Lookback Time (Gyr)', showarrow: false,
  font: { family: sansFamily, size: 31, color: '#1a1a1a' }
});

Plotly.newPlot('chart', traces, layout, { staticPlot: true, displayModeBar: false });
</script>
</body>
</html>
